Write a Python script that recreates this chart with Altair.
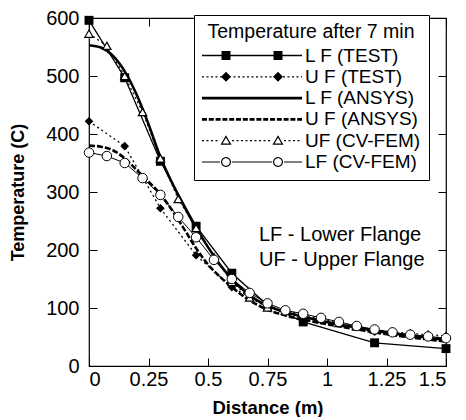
import math
import altair as alt
import pandas as pd

# ---------------- data ----------------
x_test = [0, 0.15, 0.3, 0.45, 0.6, 0.75, 0.9, 1.2, 1.5]
lf_test = [596, 497, 353, 241, 160, 105, 76, 40, 30]
uf_test = [422, 379, 272, 191, 136, 102, 83, 59, 48]

x_ansys = [0, 0.05, 0.1, 0.15, 0.2, 0.25, 0.3, 0.35, 0.4, 0.45, 0.5, 0.55,
           0.6, 0.65, 0.7, 0.75, 0.8, 0.9, 1.0, 1.1, 1.2, 1.3, 1.4, 1.5]
lf_ansys = [553, 549, 535, 508, 468, 417, 360, 315, 275, 238, 205, 175,
            150, 130, 115, 104, 96, 85, 76, 68, 61, 55, 50, 45]
uf_ansys = [380, 378, 372, 358, 338, 318, 296, 268, 236, 203, 175, 154,
            136, 120, 107, 97, 90, 80, 72, 65, 58, 52, 47, 42]

x_cv = [0, 0.075, 0.15, 0.225, 0.3, 0.375, 0.45, 0.525, 0.6, 0.675, 0.75,
        0.825, 0.9, 0.975, 1.05, 1.125, 1.2, 1.275, 1.35, 1.425, 1.5]
uf_cv = [573, 552, 500, 438, 358, 288, 238, 188, 145, 118, 101,
         95, 88, 81, 74, 68, 63, 59, 56, 54, 52]
lf_cv = [368, 362, 350, 324, 295, 257, 222, 183, 150, 126, 108,
         96, 90, 83, 76, 69, 63, 58, 54, 51, 48]

series_names = ["L F (TEST)", "U F (TEST)", "L F (ANSYS)", "U F (ANSYS)",
                "UF (CV-FEM)", "LF (CV-FEM)"]
x_ticks = [0, 0.25, 0.5, 0.75, 1, 1.25, 1.5]
y_ticks = [0, 100, 200, 300, 400, 500, 600]
note_text = ["LF - Lower Flange", "UF - Upper Flange"]
note_x = [0.714, 0.714]
note_y = [226, 183]

legend_title = "Temperature after 7 min"
x_title = "Distance (m)"
y_title = "Temperature (C)"

# ---------------- tables ----------------
frames = []
for name, xs, ys in [
    (series_names[0], x_test, lf_test),
    (series_names[1], x_test, uf_test),
    (series_names[2], x_ansys, lf_ansys),
    (series_names[3], x_ansys, uf_ansys),
    (series_names[4], x_cv, uf_cv),
    (series_names[5], x_cv, lf_cv),
]:
    frames.append(pd.DataFrame({"x": xs, "T": ys, "series": name}))
df = pd.concat(frames, ignore_index=True)
notes = pd.DataFrame({"x": note_x, "T": note_y, "text": note_text})

W, H = 357, 348
FONT = "Liberation Sans"
xs_scale = alt.Scale(domain=[0, 1.5], nice=False, zero=False)
ys_scale = alt.Scale(domain=[0, 600], nice=False, zero=False)

# ---------------- legend symbol paths (styling) ----------------
U = 50.0


def poly(pts):
    return "M" + "L".join(f"{x / U:.4f},{y / U:.4f}" for x, y in pts) + "Z"


def rect(x0, x1, t):
    return poly([(x0, -t / 2), (x1, -t / 2), (x1, t / 2), (x0, t / 2)])


def dashes(ranges, d, g, t):
    out = []
    for a, b in ranges:
        x = a
        while x < b - 0.1:
            out.append(rect(x, min(x + d, b), t))
            x += d + g
    return "".join(out)


def square(cx, h):
    return poly([(cx - h, -h), (cx + h, -h), (cx + h, h), (cx - h, h)])


def diamond(cx, h):
    return poly([(cx, -h), (cx + h, 0), (cx, h), (cx - h, 0)])


def tri_ring(cx):
    outer = poly([(cx, -5.5), (cx + 5.5, 4), (cx - 5.5, 4)])
    inner = poly([(cx, -3.0), (cx - 3.4, 2.8), (cx + 3.4, 2.8)])
    return outer + inner


def circ_ring(cx, r=5.0, ri=3.8, n=24):
    o = [(cx + r * math.cos(2 * math.pi * k / n), r * math.sin(2 * math.pi * k / n)) for k in range(n)]
    i = [(cx + ri * math.cos(-2 * math.pi * k / n), ri * math.sin(-2 * math.pi * k / n)) for k in range(n)]
    return poly(o) + poly(i)


M = 26
full = [(-50, 50)]
gapped = [(-50, -M - 6), (-M + 6, M - 6), (M + 6, 50)]
sym_paths = [
    dashes(full, 200, 0, 1.3) + square(-M, 4.5) + square(M, 4.5),
    dashes(full, 2, 2.5, 1.3) + diamond(-M, 5) + diamond(M, 5),
    dashes(full, 200, 0, 2.8),
    dashes(full, 5, 1.8, 2.8),
    dashes(gapped, 2, 2.5, 1.3) + tri_ring(-M) + tri_ring(M),
    dashes(gapped, 200, 0, 1.0) + circ_ring(-M) + circ_ring(M),
]

# ---------------- layers ----------------
layers = []

# main axes carried by an invisible layer
axis_main = alt.Chart(df).mark_point(opacity=0).encode(
    x=alt.X("x:Q", scale=xs_scale, axis=alt.Axis(
        orient="bottom", values=x_ticks, labelExpr="'' + datum.value", ticks=False, domain=False,
        grid=False, labelFontSize=20, labelPadding=3, labelColor="black",
        title=x_title, titleFontSize=18.5, titleFontWeight="bold", titlePadding=9, titleColor="black")),
    y=alt.Y("T:Q", scale=ys_scale, axis=alt.Axis(
        orient="left", values=y_ticks, ticks=False, domain=False, grid=False,
        labelFontSize=20, labelPadding=10, labelColor="black",
        title=y_title, titleFontSize=18, titleFontWeight="bold", titlePadding=18, titleColor="black")),
)
layers.append(axis_main)

tick_common = dict(labels=False, domain=False, grid=False, ticks=True, tickSize=8,
                   tickColor="black", tickWidth=1, title=None)
# inward ticks at top and left
layers.append(alt.Chart(df).mark_point(opacity=0).encode(
    x=alt.X("x:Q", scale=xs_scale, axis=alt.Axis(orient="bottom", offset=-H, values=x_ticks, **tick_common)),
    y=alt.Y("T:Q", scale=ys_scale, axis=alt.Axis(orient="right", offset=-W, values=y_ticks, **tick_common)),
))
# inward ticks at bottom and right
layers.append(alt.Chart(df).mark_point(opacity=0).encode(
    x=alt.X("x:Q", scale=xs_scale, axis=alt.Axis(orient="top", offset=-H, values=x_ticks, **tick_common)),
    y=alt.Y("T:Q", scale=ys_scale, axis=alt.Axis(orient="left", offset=-W, values=y_ticks, **tick_common)),
))

line_styles = {
    series_names[0]: dict(strokeWidth=1.3, interpolate="linear"),
    series_names[1]: dict(strokeWidth=1.3, strokeDash=[2, 3], interpolate="linear"),
    series_names[2]: dict(strokeWidth=2.6, interpolate="monotone"),
    series_names[3]: dict(strokeWidth=2.6, strokeDash=[6, 2], interpolate="monotone"),
    series_names[4]: dict(strokeWidth=1.2, strokeDash=[2, 3], interpolate="linear"),
    series_names[5]: dict(strokeWidth=1.0, interpolate="linear"),
}
point_styles = {
    series_names[0]: dict(shape="square", filled=True, size=80),
    series_names[1]: dict(shape="diamond", filled=True, size=75),
    series_names[4]: dict(shape="triangle-up", filled=False, fill="white", size=70, strokeWidth=1.2),
    series_names[5]: dict(shape="circle", filled=False, fill="white", size=90, strokeWidth=1.0),
}

enc_noaxis = dict(
    x=alt.X("x:Q", scale=xs_scale, axis=None),
    y=alt.Y("T:Q", scale=ys_scale, axis=None),
)

for name in series_names:
    st = line_styles[name]
    layers.append(
        alt.Chart(df).transform_filter(alt.datum.series == name)
        .mark_line(color="black", **st)
        .encode(order="x:Q", **enc_noaxis)
    )
for name, st in point_styles.items():
    layers.append(
        alt.Chart(df).transform_filter(alt.datum.series == name)
        .mark_point(color="black", opacity=1, **st)
        .encode(**enc_noaxis)
    )

# annotation text
layers.append(
    alt.Chart(notes).mark_text(align="left", baseline="middle", fontSize=20, font=FONT, color="black")
    .encode(text="text:N", **enc_noaxis)
)

# legend (drawn only through the shape scale)
legend_layer = alt.Chart(df).transform_filter("false").mark_point(
    filled=True, color="black", opacity=1
).encode(
    x=alt.X("x:Q", scale=xs_scale, axis=None),
    y=alt.Y("T:Q", scale=ys_scale, axis=None),
    shape=alt.Shape(
        "series:N",
        scale=alt.Scale(domain=series_names, range=sym_paths),
        legend=alt.Legend(
            title=legend_title, orient="none", legendX=105, legendY=-3,
            titleFontSize=19.5, titleFontWeight="normal", titleColor="black",
            titleAnchor="middle", titleAlign="center", titlePadding=4, titleLimit=400,
            labelFontSize=19, labelColor="black", labelOffset=3, labelLimit=300,
            symbolSize=10000, symbolStrokeWidth=0, symbolFillColor="black",
            clipHeight=18, rowPadding=2.3,
            padding=8, strokeColor="black", fillColor="white", cornerRadius=0,
        ),
    ),
)
layers.append(legend_layer)

chart = alt.layer(*layers).resolve_axis(x="independent", y="independent").properties(
    width=W, height=H,
    padding={"left": 1, "top": 0, "right": 5, "bottom": 0},
).configure(font=FONT, background="white").configure_view(
    stroke="black", strokeWidth=1.2
)

chart.save("out.html", embed_options={"renderer": "svg", "actions": False})
